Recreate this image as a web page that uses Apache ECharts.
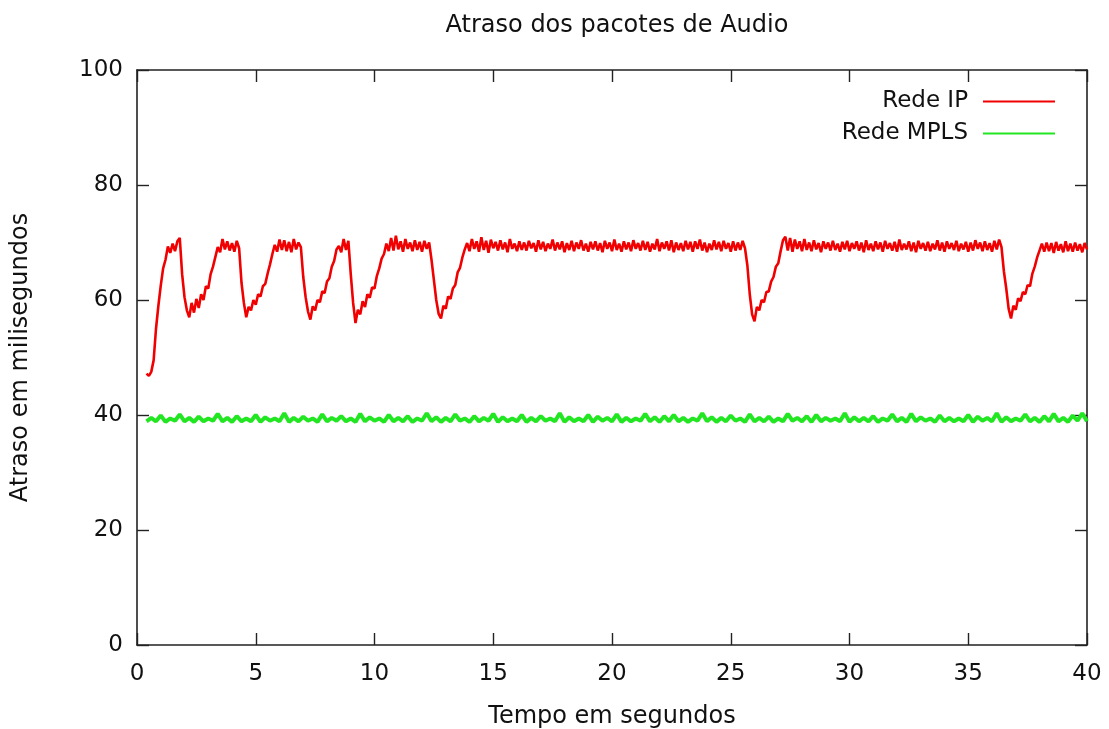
<!DOCTYPE html>
<html>
<head>
<meta charset="utf-8">
<script src="https://cdn.jsdelivr.net/npm/echarts@6/dist/echarts.min.js"></script>
<style>
html,body{margin:0;padding:0;background:#fff;}
#chart{width:1109px;height:729px;}
</style>
</head>
<body>
<div id="chart"></div>
<script>
// Chart text
var chartTitle = 'Atraso dos pacotes de Audio';
var xName = 'Tempo em segundos';
var yName = 'Atraso em milisegundos';
var seriesNames = ['Rede IP', 'Rede MPLS'];

// Axis ranges / ticks
var xTicks = [0, 5, 10, 15, 20, 25, 30, 35, 40];
var yTicks = [0, 20, 40, 60, 80, 100];

// Rede IP: samples every 0.1 s starting at 0.4 s (rows of 10 samples = 1 s)
var ipStart = 0.4, ipStep = 0.1;
var ipValues = [
  47.2, 46.8, 47.5, 49.5, 55.0, 59.0, 62.5, 65.5, 67.0, 69.3, // 0.4
  68.2, 69.8, 68.5, 70.2, 70.8, 64.5, 60.5, 58.2, 57.0, 59.5, // 1.4
  57.8, 60.2, 58.6, 61.0, 60.0, 62.4, 62.0, 64.5, 65.8, 67.5, // 2.4
  69.2, 68.3, 70.6, 68.8, 70.2, 68.6, 69.9, 68.4, 70.3, 69.0, // 3.4
  63.0, 59.5, 57.0, 58.8, 58.2, 60.0, 59.2, 61.0, 60.6, 62.4, // 4.4
  62.8, 64.6, 66.2, 68.0, 69.6, 68.4, 70.5, 68.7, 70.4, 68.5, // 5.4
  70.1, 68.3, 70.6, 68.8, 70.0, 69.2, 64.0, 60.5, 58.0, 56.6, // 6.4
  58.9, 58.2, 60.0, 59.6, 61.5, 61.2, 63.2, 63.8, 65.8, 66.8, // 7.4
  68.8, 69.4, 68.3, 70.6, 68.7, 70.3, 64.5, 59.5, 56.0, 58.3, // 8.4
  57.5, 59.8, 58.8, 61.0, 60.4, 62.2, 62.0, 64.2, 65.5, 67.2, // 9.4
  68.0, 69.8, 68.5, 70.8, 68.6, 71.2, 68.8, 70.2, 68.4, 70.6, // 10.4
  68.9, 70.0, 68.5, 70.4, 68.7, 70.1, 68.4, 70.3, 68.9, 70.0, // 11.4
  67.0, 63.5, 60.0, 57.6, 56.8, 59.0, 58.5, 60.6, 60.2, 62.0, // 12.4
  62.6, 64.8, 65.6, 67.4, 68.8, 69.9, 68.5, 70.6, 68.9, 70.2, // 13.4
  68.4, 70.9, 68.7, 70.3, 68.2, 70.5, 69.0, 70.1, 68.6, 70.4, // 14.4
  68.8, 70.0, 68.3, 70.6, 68.9, 69.8, 68.5, 70.2, 68.7, 70.0, // 15.4
  68.6, 70.3, 69.0, 69.9, 68.4, 70.4, 68.8, 70.1, 68.5, 69.8, // 16.4
  68.9, 70.5, 68.6, 70.0, 68.8, 70.2, 68.3, 69.9, 68.7, 70.3, // 17.4
  68.5, 70.0, 68.9, 70.4, 68.6, 69.8, 68.4, 70.1, 68.8, 70.2, // 18.4
  68.6, 69.9, 68.3, 70.3, 68.9, 70.0, 68.5, 70.5, 68.7, 69.8, // 19.4
  68.4, 70.2, 68.8, 70.0, 68.5, 70.4, 68.9, 69.9, 68.6, 70.3, // 20.4
  68.7, 70.1, 68.4, 69.8, 68.8, 70.6, 68.5, 70.0, 68.9, 70.2, // 21.4
  68.6, 70.4, 68.3, 70.0, 68.7, 69.9, 68.5, 70.3, 68.8, 70.1, // 22.4
  68.4, 70.2, 68.9, 70.5, 68.6, 70.0, 68.3, 69.8, 68.7, 70.4, // 23.4
  68.8, 70.1, 68.5, 70.3, 68.9, 69.9, 68.4, 70.2, 68.6, 70.0, // 24.4
  68.7, 70.3, 69.0, 66.0, 61.0, 57.5, 56.3, 58.8, 58.2, 60.0, // 25.4
  59.6, 61.4, 61.5, 63.2, 64.0, 65.8, 66.4, 68.5, 70.4, 71.0, // 26.4
  68.6, 70.8, 68.4, 70.5, 68.9, 70.2, 68.5, 70.6, 68.7, 70.0, // 27.4
  68.5, 70.4, 68.8, 69.9, 68.3, 70.2, 68.9, 70.0, 68.6, 70.3, // 28.4
  68.7, 69.8, 68.4, 70.1, 68.8, 70.3, 68.5, 69.9, 68.9, 70.2, // 29.4
  68.6, 70.0, 68.3, 70.4, 68.7, 69.8, 68.5, 70.2, 68.8, 70.0, // 30.4
  68.4, 70.3, 68.9, 69.9, 68.6, 70.1, 68.4, 70.5, 68.7, 69.8, // 31.4
  68.8, 70.2, 68.5, 70.0, 68.3, 70.3, 68.9, 69.9, 68.6, 70.1, // 32.4
  68.5, 69.8, 68.8, 70.4, 68.6, 70.0, 68.4, 70.2, 68.9, 69.9, // 33.4
  68.7, 70.3, 68.5, 69.8, 68.8, 70.1, 68.4, 70.0, 68.6, 70.4, // 34.4
  68.9, 70.0, 68.5, 70.2, 68.7, 69.9, 68.4, 70.3, 68.8, 70.5, // 35.4
  69.2, 65.0, 62.0, 58.5, 56.8, 59.0, 58.3, 60.3, 59.8, 61.4, // 36.4
  61.0, 62.6, 62.4, 64.6, 65.8, 67.4, 68.6, 69.8, 68.4, 70.0, // 37.4
  68.5, 69.9, 68.2, 70.1, 68.6, 69.7, 68.3, 70.2, 68.5, 69.8, // 38.4
  68.4, 70.0, 68.6, 69.7, 68.3, 69.9, 68.8                    // 39.4
];

// Rede MPLS: samples every 0.2 s starting at 0.4 s (rows of 10 samples = 2 s)
var mplsStart = 0.4, mplsStep = 0.2;
var mplsValues = [
  38.9, 39.5, 38.9, 39.9, 38.8, 39.4, 39.0, 40.1, 38.9, 39.5, // 0.4
  38.8, 39.7, 38.9, 39.4, 39.0, 40.2, 38.9, 39.5, 38.8, 39.8, // 2.4
  38.9, 39.4, 38.9, 40.0, 38.8, 39.6, 39.0, 39.4, 38.9, 40.3, // 4.4
  38.8, 39.5, 38.9, 39.7, 39.0, 39.4, 38.8, 40.1, 38.9, 39.5, // 6.4
  39.0, 39.8, 38.9, 39.4, 38.8, 40.2, 38.9, 39.6, 39.0, 39.4, // 8.4
  38.8, 40.0, 38.9, 39.5, 38.9, 39.8, 38.8, 39.4, 39.0, 40.3, // 10.4
  38.9, 39.6, 38.8, 39.5, 38.9, 40.1, 39.0, 39.4, 38.8, 39.8, // 12.4
  38.9, 39.5, 39.0, 40.2, 38.8, 39.6, 38.9, 39.4, 38.9, 40.0, // 14.4
  38.8, 39.5, 38.9, 39.8, 39.0, 39.4, 38.9, 40.3, 38.8, 39.6, // 16.4
  38.9, 39.4, 38.9, 40.0, 38.8, 39.7, 39.0, 39.5, 38.9, 40.1, // 18.4
  38.8, 39.5, 38.9, 39.4, 39.0, 40.2, 38.9, 39.6, 38.8, 39.8, // 20.4
  38.9, 40.0, 38.9, 39.5, 38.8, 39.4, 39.0, 40.3, 38.9, 39.6, // 22.4
  38.8, 39.5, 38.9, 39.9, 39.0, 39.4, 38.8, 40.1, 38.9, 39.5, // 24.4
  38.9, 39.7, 38.8, 39.4, 38.9, 40.2, 39.0, 39.5, 38.9, 39.8, // 26.4
  38.8, 40.0, 38.9, 39.5, 39.0, 39.4, 38.9, 40.3, 38.8, 39.6, // 28.4
  38.9, 39.5, 38.9, 39.8, 38.8, 39.4, 39.0, 40.1, 38.9, 39.5, // 30.4
  38.8, 40.2, 38.9, 39.6, 39.0, 39.4, 38.8, 39.9, 38.9, 39.5, // 32.4
  38.9, 39.4, 38.9, 40.0, 38.8, 39.7, 39.0, 39.5, 38.9, 40.3, // 34.4
  38.8, 39.6, 38.9, 39.4, 39.0, 40.1, 38.9, 39.5, 38.8, 39.8, // 36.4
  38.9, 40.2, 38.9, 39.5, 38.8, 39.9, 39.0, 40.3, 38.9        // 38.4
];

function toPairs(start, step, values) {
  return values.map(function (v, i) {
    return [Math.round((start + i * step) * 1000) / 1000, v];
  });
}

var FONT = 'DejaVu Sans';
var AXIS_COLOR = '#222';
var TEXT_COLOR = '#111';
var xMin = xTicks[0], xMax = xTicks[xTicks.length - 1], xInt = xTicks[1] - xTicks[0];
var yMin = yTicks[0], yMax = yTicks[yTicks.length - 1], yInt = yTicks[1] - yTicks[0];

function baseX(pos, showLabel) {
  return {
    type: 'value', position: pos, min: xMin, max: xMax, interval: xInt,
    axisLine: { show: true, onZero: false, lineStyle: { color: AXIS_COLOR, width: 1.6 } },
    axisTick: { show: true, inside: true, length: 12, lineStyle: { color: AXIS_COLOR, width: 1.4 } },
    axisLabel: { show: showLabel, margin: 18, fontSize: 23, fontFamily: FONT, color: TEXT_COLOR },
    splitLine: { show: false }
  };
}
function baseY(pos, showLabel) {
  return {
    type: 'value', position: pos, min: yMin, max: yMax, interval: yInt,
    axisLine: { show: true, onZero: false, lineStyle: { color: AXIS_COLOR, width: 1.6 } },
    axisTick: { show: true, inside: true, length: 12, lineStyle: { color: AXIS_COLOR, width: 1.4 } },
    axisLabel: { show: showLabel, margin: 14, fontSize: 23, fontFamily: FONT, color: TEXT_COLOR },
    splitLine: { show: false }
  };
}

var xBottom = baseX('bottom', true);
xBottom.name = xName;
xBottom.nameLocation = 'middle';
xBottom.nameGap = 60;
xBottom.nameTextStyle = { fontSize: 24, fontFamily: FONT, color: TEXT_COLOR };
var yLeft = baseY('left', true);
yLeft.name = yName;
yLeft.nameLocation = 'middle';
yLeft.nameGap = 104;
yLeft.nameTextStyle = { fontSize: 24, fontFamily: FONT, color: TEXT_COLOR };

var chart = echarts.init(document.getElementById('chart'), null, { renderer: 'canvas' });
chart.setOption({
  animation: false,
  backgroundColor: '#fff',
  title: {
    text: chartTitle, left: 612, top: 9, textAlign: 'center',
    textStyle: { fontSize: 24, fontWeight: 'normal', fontFamily: FONT, color: TEXT_COLOR }
  },
  legend: {
    orient: 'vertical', right: 49, top: 85, align: 'right',
    icon: 'rect', itemWidth: 72, itemHeight: 2, itemGap: 9,
    textStyle: { fontSize: 23, fontFamily: FONT, color: TEXT_COLOR, padding: [0, 10, 0, 0] },
    data: seriesNames
  },
  grid: { left: 137, right: 22, top: 70, bottom: 84, containLabel: false, outerBoundsMode: 'none' },
  xAxis: [xBottom, baseX('top', false)],
  yAxis: [yLeft, baseY('right', false)],
  series: [
    {
      name: seriesNames[0], type: 'line', xAxisIndex: 0, yAxisIndex: 0,
      symbol: 'none', showSymbol: false,
      lineStyle: { color: '#f00000', width: 2.6, join: 'bevel' }, itemStyle: { color: '#f00000' },
      data: toPairs(ipStart, ipStep, ipValues)
    },
    {
      name: seriesNames[1], type: 'line', xAxisIndex: 0, yAxisIndex: 0,
      symbol: 'none', showSymbol: false,
      lineStyle: { color: '#22e622', width: 4 }, itemStyle: { color: '#22e622' },
      data: toPairs(mplsStart, mplsStep, mplsValues)
    }
  ]
});
</script>
</body>
</html>
